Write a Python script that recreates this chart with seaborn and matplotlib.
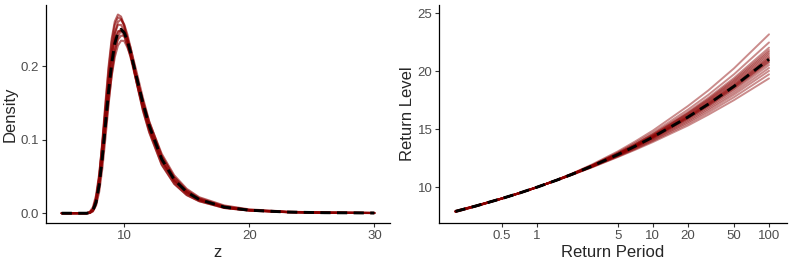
import numpy as np
import pandas as pd
import matplotlib
matplotlib.use("Agg")
import matplotlib.pyplot as plt
import seaborn as sns

# ── Density panel: z grid, posterior-draw curves and the mean curve ──
dens_z = [5, 6, 7, 7.25, 7.5, 7.75, 8, 8.25, 8.5, 8.75,
          9, 9.25, 9.5, 9.75, 10, 10.25, 10.5, 11, 11.5, 12,
          13, 14, 15, 16, 18, 20, 23, 26, 30]

dens_mean = [0, 0, 0, .0006, .0038, .0148, .0384, .0753, .1202, .1654,
             .2036, .2307, .2457, .2499, .2453, .2343, .2194, .1843, .1494, .1188,
             .0735, .0456, .0288, .0186, .0083, .0041, .0016, .0007, .0003]

dens_draws = [
    dens_mean,
    [0, 0, 0, .0006, .0047, .0190, .0468, .0937, .1454, .1943,
     .2323, .2562, .2660, .2643, .2537, .2375, .2178, .1778, .1404, .1110,
     .0665, .0403, .0249, .0165, .0072, .0036, .0014, .0006, .0002],
    [0, 0, .0001, .0013, .0056, .0169, .0389, .0719, .1119, .1520,
     .1866, .2124, .2280, .2345, .2341, .2256, .2139, .1839, .1527, .1241,
     .0807, .0515, .0331, .0217, .0105, .0052, .0022, .0009, .0004],
    [0, 0, 0, .0003, .0028, .0122, .0345, .0724, .1210, .1712,
     .2145, .2443, .2600, .2632, .2567, .2433, .2257, .1866, .1489, .1176,
     .0711, .0432, .0268, .0175, .0077, .0038, .0015, .0006, .0003],
    [0, 0, 0, .0003, .0025, .0104, .0290, .0605, .1022, .1473,
     .1883, .2199, .2397, .2482, .2481, .2387, .2254, .1913, .1564, .1249,
     .0780, .0484, .0305, .0196, .0088, .0043, .0017, .0007, .0003],
    [0, 0, .0001, .0019, .0082, .0242, .0532, .0933, .1383, .1807,
     .2144, .2367, .2474, .2481, .2409, .2283, .2124, .1773, .1433, .1143,
     .0707, .0439, .0278, .0181, .0081, .0040, .0016, .0007, .0003],
    [0, 0, 0, .0011, .0050, .0165, .0395, .0742, .1163, .1587,
     .1947, .2207, .2359, .2412, .2410, .2291, .2161, .1839, .1512, .1216,
     .0775, .0490, .0313, .0204, .0096, .0047, .0019, .0008, .0003],
    [0, 0, 0, .0010, .0057, .0199, .0481, .0898, .1379, .1839,
     .2207, .2448, .2560, .2559, .2481, .2342, .2167, .1792, .1434, .1140,
     .0715, .0450, .0289, .0189, .0083, .0041, .0016, .0007, .0003],
    [0, 0, 0, .0007, .0052, .0205, .0495, .0975, .1500, .1990,
     .2370, .2605, .2700, .2672, .2555, .2380, .2175, .1765, .1390, .1097,
     .0655, .0397, .0245, .0162, .0071, .0035, .0014, .0006, .0002],
]

# ── Return level panel ──
rl_period = [0.2, 0.3, 0.5, 0.7, 1, 1.5, 2, 3, 5, 7, 10, 20, 30, 50, 100]

rl_mean = [7.92, 8.39, 9.03, 9.48, 10.00, 10.63, 11.11, 11.83, 12.82, 13.53,
           14.33, 16.05, 17.17, 18.71, 21.04]

rl_draws = [
    [7.97, 8.42, 9.05, 9.49, 10.00, 10.61, 11.06, 11.72, 12.61, 13.22, 13.90, 15.32, 16.26, 17.52, 19.39],
    [7.96, 8.42, 9.04, 9.49, 10.00, 10.61, 11.07, 11.75, 12.65, 13.28, 13.99, 15.48, 16.45, 17.77, 19.74],
    [7.95, 8.41, 9.04, 9.48, 10.00, 10.62, 11.08, 11.76, 12.69, 13.34, 14.07, 15.61, 16.62, 17.99, 20.04],
    [7.94, 8.41, 9.04, 9.48, 10.00, 10.62, 11.09, 11.78, 12.72, 13.39, 14.13, 15.72, 16.76, 18.17, 20.29],
    [7.94, 8.40, 9.04, 9.48, 10.00, 10.62, 11.09, 11.80, 12.75, 13.43, 14.20, 15.83, 16.89, 18.35, 20.54],
    [7.93, 8.40, 9.03, 9.48, 10.00, 10.63, 11.10, 11.81, 12.78, 13.47, 14.25, 15.92, 17.00, 18.49, 20.74],
    [7.93, 8.39, 9.03, 9.48, 10.00, 10.63, 11.10, 11.82, 12.79, 13.49, 14.28, 15.96, 17.06, 18.57, 20.84],
    [7.92, 8.39, 9.03, 9.48, 10.00, 10.63, 11.11, 11.82, 12.81, 13.51, 14.30, 16.01, 17.11, 18.64, 20.94],
    rl_mean,
    [7.92, 8.39, 9.03, 9.48, 10.00, 10.63, 11.11, 11.84, 12.83, 13.55, 14.36, 16.09, 17.23, 18.78, 21.14],
    [7.91, 8.39, 9.03, 9.48, 10.00, 10.63, 11.12, 11.84, 12.85, 13.57, 14.38, 16.14, 17.28, 18.85, 21.24],
    [7.91, 8.38, 9.03, 9.48, 10.00, 10.63, 11.12, 11.85, 12.87, 13.60, 14.42, 16.20, 17.36, 18.96, 21.39],
    [7.90, 8.38, 9.02, 9.48, 10.00, 10.64, 11.13, 11.86, 12.89, 13.63, 14.46, 16.27, 17.45, 19.07, 21.54],
    [7.90, 8.38, 9.02, 9.48, 10.00, 10.64, 11.13, 11.87, 12.90, 13.65, 14.50, 16.34, 17.53, 19.18, 21.69],
    [7.90, 8.37, 9.02, 9.48, 10.00, 10.64, 11.13, 11.88, 12.92, 13.68, 14.54, 16.40, 17.61, 19.29, 21.84],
    [7.89, 8.37, 9.02, 9.48, 10.00, 10.64, 11.14, 11.90, 12.95, 13.72, 14.59, 16.49, 17.72, 19.43, 22.04],
    [7.88, 8.36, 9.02, 9.47, 10.00, 10.65, 11.15, 11.92, 13.01, 13.81, 14.71, 16.69, 17.97, 19.75, 22.49],
    [7.86, 8.35, 9.01, 9.47, 10.00, 10.66, 11.17, 11.97, 13.10, 13.94, 14.89, 17.00, 18.35, 20.26, 23.19],
]

period_ticks = [0.5, 1, 5, 10, 20, 50, 100]
period_labels = ["0.5", "1", "5", "10", "20", "50", "100"]

RED = "#8B0000"
TICK_GREY = "#4D4D4D"


def long_frame(xs, draws, xname, yname):
    rows = []
    for k, vals in enumerate(draws):
        for x, y in zip(xs, vals):
            rows.append({xname: x, yname: y, "draw": k})
    return pd.DataFrame(rows)


def style_axis(ax):
    sns.despine(ax=ax)
    for side in ["left", "bottom"]:
        ax.spines[side].set_color("black")
        ax.spines[side].set_linewidth(0.9)
    ax.tick_params(axis="both", colors="#333333", labelcolor=TICK_GREY,
                   labelsize=9.5, length=3, width=0.8, pad=2)


sns.set_style("ticks")
plt.rcParams["font.family"] = ["Liberation Sans", "DejaVu Sans"]

fig = plt.figure(figsize=(7.92, 2.64), dpi=100)
ax1 = fig.add_axes([0.0581, 0.1553, 0.4343, 0.8258])
ax2 = fig.add_axes([0.5547, 0.1553, 0.4386, 0.8258])

# Left: density
dens_df = long_frame(dens_z, dens_draws, "z", "density")
sns.lineplot(data=dens_df, x="z", y="density", units="draw", estimator=None,
             color=RED, alpha=0.6, linewidth=1.5, ax=ax1)
sns.lineplot(x=dens_z, y=dens_mean, color="black", linewidth=2.1,
             linestyle=(0, (3.5, 2.2)), ax=ax1)
ax1.set_xlim(3.75, 31.25)
ax1.set_ylim(-0.0133, 0.283)
ax1.set_xticks([10, 20, 30])
ax1.set_yticks([0.0, 0.1, 0.2])
ax1.set_yticklabels(["0.0", "0.1", "0.2"])
ax1.set_xlabel("z", fontsize=12, labelpad=2)
ax1.set_ylabel("Density", fontsize=12, labelpad=2)
style_axis(ax1)

# Right: return level
rl_df = long_frame(rl_period, rl_draws, "period", "level")
sns.lineplot(data=rl_df, x="period", y="level", units="draw", estimator=None,
             color=RED, alpha=0.45, linewidth=1.4, ax=ax2)
sns.lineplot(x=rl_period, y=rl_mean, color="black", linewidth=2.1,
             linestyle=(0, (3.5, 2.2)), ax=ax2)
ax2.set_xscale("log")
ax2.set_xlim(0.145, 142)
ax2.set_ylim(6.92, 25.72)
ax2.set_xticks(period_ticks)
ax2.set_xticklabels(period_labels)
ax2.minorticks_off()
ax2.set_yticks([10, 15, 20, 25])
ax2.set_xlabel("Return Period", fontsize=12, labelpad=2)
ax2.set_ylabel("Return Level", fontsize=12, labelpad=2)
style_axis(ax2)

fig.savefig("out.png", dpi=100)
